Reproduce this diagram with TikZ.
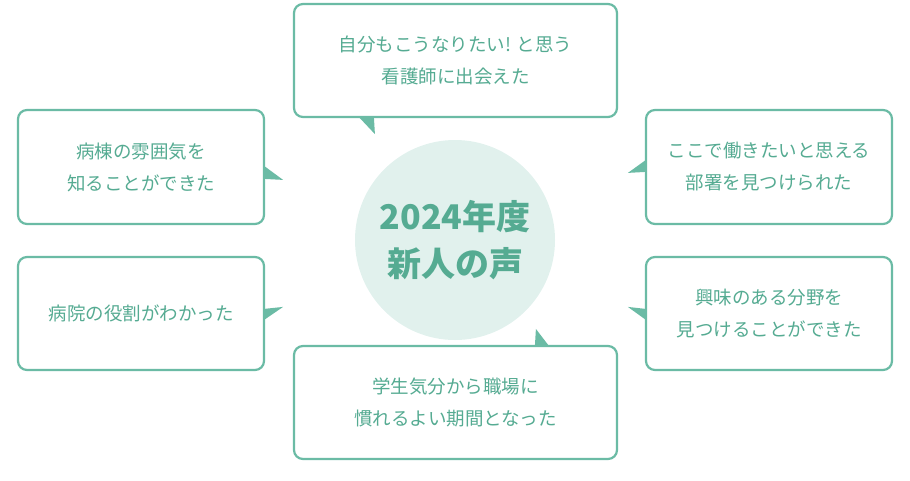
\documentclass[tikz,border=0pt]{standalone}
\usepackage{fontspec}
\setmainfont{Noto Sans CJK JP}
\usetikzlibrary{calc}
\definecolor{mint}{HTML}{6BBBA5}
\definecolor{minttext}{HTML}{55AB92}
\definecolor{mintfill}{HTML}{E1F1ED}
\tikzset{
  voice/.style={draw=mint,line width=2.2pt,rounded corners=9pt,fill=white,
    text=minttext,align=center,font=\fontsize{18.5}{32}\selectfont,inner sep=0pt},
  tail/.style={fill=mint,draw=none}
}
\begin{document}
\begin{tikzpicture}[x=1pt,y=-1pt]
        \useasboundingbox (0,0) rectangle (910,480);
        \node[circle,fill=mintfill,minimum size=200pt,inner sep=0pt,text=minttext,
          align=center,font=\fontsize{34}{47}\selectfont\bfseries] (C) at (455,240) {2024年度\\新人の声};
        \node[voice,minimum width=323pt,minimum height=113pt] (T) at (455.5,60.5) {自分もこうなりたい! と思う\\看護師に出会えた};
        \node[voice,minimum width=246pt,minimum height=114pt] (LT) at (141,167) {病棟の雰囲気を\\知ることができた};
        \node[voice,minimum width=246pt,minimum height=113pt] (LB) at (141,313.5) {病院の役割がわかった};
        \node[voice,minimum width=246pt,minimum height=114pt] (RT) at (769,167) {ここで働きたいと思える\\部署を見つけられた};
        \node[voice,minimum width=246pt,minimum height=113pt] (RB) at (769,313.5) {興味のある分野を\\見つけることができた};
        \node[voice,minimum width=323pt,minimum height=113pt] (B) at (455.5,402.5) {学生気分から職場に\\慣れるよい期間となった};
        % tails
        \fill[tail] ($(T.south west)+(66,-1)$) -- ($(T.south west)+(81,-1)$) -- ($(T.south west)+(82,16)$) -- cycle;
        \fill[tail] ($(LT.north east)+(-1,57)$) -- ($(LT.north east)+(-1,70)$) -- ($(LT.north east)+(18,71)$) -- cycle;
        \fill[tail] ($(LB.north east)+(-1,53)$) -- ($(LB.north east)+(-1,64)$) -- ($(LB.north east)+(18,51)$) -- cycle;
        \fill[tail] ($(RT.north west)+(1,51)$) -- ($(RT.north west)+(1,63)$) -- ($(RT.north west)+(-17,64)$) -- cycle;
        \fill[tail] ($(RB.north west)+(1,53)$) -- ($(RB.north west)+(1,64)$) -- ($(RB.north west)+(-17,51)$) -- cycle;
        \fill[tail] ($(B.north west)+(242,1)$) -- ($(B.north west)+(256,1)$) -- ($(B.north west)+(243,-16)$) -- cycle;
\end{tikzpicture}
\end{document}
